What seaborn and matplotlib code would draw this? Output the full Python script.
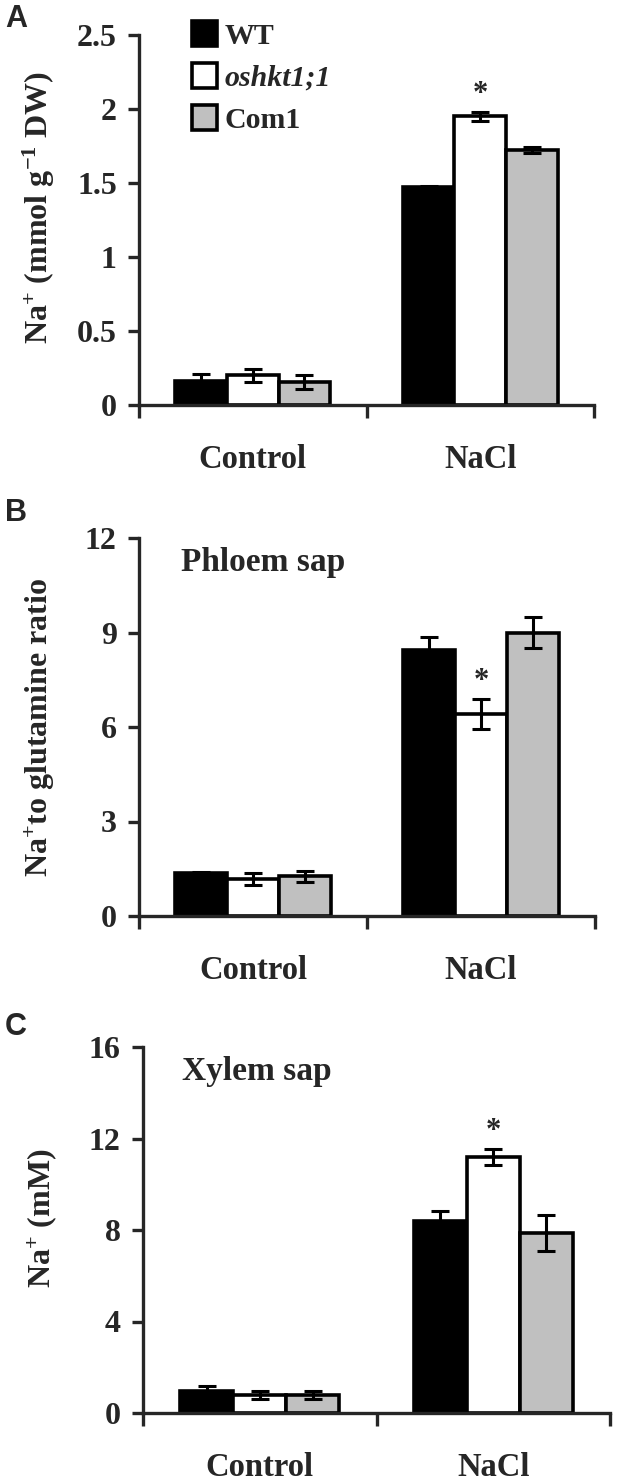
import numpy as np
import pandas as pd
import seaborn as sns
import matplotlib.pyplot as plt

# Values
conditions = ["Control", "NaCl"]
genotypes = ["WT", "oshkt1;1", "Com1"]
colors = ["#000000", "#ffffff", "#c0c0c0"]

leaf_na = [[0.16, 0.20, 0.155], [1.47, 1.95, 1.72]]
leaf_na_err = [[0.05, 0.045, 0.045], [0.01, 0.03, 0.02]]

phloem_ratio = [[1.36, 1.17, 1.26], [8.44, 6.42, 9.0]]
phloem_ratio_err = [[0.05, 0.2, 0.17], [0.42, 0.47, 0.5]]

xylem_na = [[0.97, 0.77, 0.77], [8.41, 11.2, 7.86]]
xylem_na_err = [[0.22, 0.17, 0.17], [0.42, 0.35, 0.78]]

a_ticks = [0, 0.5, 1, 1.5, 2, 2.5]
a_ticklabels = ["0", "0.5", "1", "1.5", "2", "2.5"]
b_ticks = [0, 3, 6, 9, 12]
c_ticks = [0, 4, 8, 12, 16]

W, H = 617, 1480


def build_frame(means, errs):
    rows = []
    for i, cond in enumerate(conditions):
        for j, geno in enumerate(genotypes):
            rows.append({"condition": cond, "genotype": geno,
                         "value": means[i][j], "err": errs[i][j]})
    return pd.DataFrame(rows)


def draw_panel(ax, means, errs, ticks, ticklabels, ylabel, label_y, legend=False):
    frame = build_frame(means, errs)
    sns.barplot(data=frame, x="condition", y="value", hue="genotype",
                hue_order=genotypes, order=conditions, palette=colors,
                edgecolor="black", linewidth=2.6, width=0.68, errorbar=None,
                legend=legend, saturation=1, ax=ax)
    bar_groups = [list(c.patches) for c in ax.containers]
    for j, patches in enumerate(bar_groups):
        for i, bar in enumerate(patches):
            cx = bar.get_x() + bar.get_width() / 2
            ax.errorbar(cx, means[i][j], yerr=errs[i][j], color="black",
                        elinewidth=2.2, capsize=6.5, capthick=2.2, zorder=5)
    # significance star on oshkt1;1 under NaCl
    bar = bar_groups[1][1]
    cx = bar.get_x() + bar.get_width() / 2
    top = means[1][1] + errs[1][1]
    ax.annotate("*", xy=(cx, top), xytext=(0, 7), textcoords="offset points",
                ha="center", va="baseline", fontsize=22, fontweight="bold")

    ax.set_xlim(-0.5, 1.5)
    ax.set_ylim(ticks[0], ticks[-1])
    ax.set_yticks(ticks)
    ax.set_yticklabels(ticklabels)
    ax.set_xticks([-0.5, 0.5, 1.5])
    ax.set_xticklabels([])
    ax.set_xticks([0, 1], minor=True)
    ax.set_xticklabels(conditions, minor=True)
    ax.tick_params(axis="x", which="major", direction="out", length=9, width=2.4)
    ax.tick_params(axis="x", which="minor", length=0, pad=28, labelsize=23.5)
    ax.tick_params(axis="y", direction="out", length=8, width=2.4, labelsize=23, pad=8)
    ax.set_xlabel("")
    ax.set_ylabel(ylabel, fontsize=23, fontweight="bold")
    ax.yaxis.set_label_coords(-0.18, label_y)
    for side in ["top", "right"]:
        ax.spines[side].set_visible(False)
    for side in ["left", "bottom"]:
        ax.spines[side].set_linewidth(2.4)
        ax.spines[side].set_zorder(6)
    for lab in ax.get_xticklabels(which="minor") + ax.get_yticklabels():
        lab.set_fontweight("bold")


def axes_rect(left, right, top, bottom):
    return [left / W, 1 - bottom / H, (right - left) / W, (bottom - top) / H]


sns.set_theme(style="ticks")
plt.rcParams["font.family"] = ["Liberation Serif", "DejaVu Serif"]
plt.rcParams["font.weight"] = "bold"
plt.rcParams["mathtext.fontset"] = "custom"
plt.rcParams["mathtext.rm"] = "Liberation Serif:bold"
plt.rcParams["mathtext.it"] = "Liberation Serif:bold"
plt.rcParams["mathtext.bf"] = "Liberation Serif:bold"

fig = plt.figure(figsize=(W / 100, H / 100), dpi=100)
ax_a = fig.add_axes(axes_rect(139, 594, 35, 405))
ax_b = fig.add_axes(axes_rect(139, 595, 538, 916))
ax_c = fig.add_axes(axes_rect(143, 610, 1047, 1413))

draw_panel(ax_a, leaf_na, leaf_na_err, a_ticks, a_ticklabels,
           r"Na$^{+}$ (mmol g$^{-1}$ DW)", 0.535, legend=True)
draw_panel(ax_b, phloem_ratio, phloem_ratio_err, b_ticks, [str(t) for t in b_ticks],
           r"Na$^{+}$to glutamine ratio", 0.5)
draw_panel(ax_c, xylem_na, xylem_na_err, c_ticks, [str(t) for t in c_ticks],
           r"Na$^{+}$ (mM)", 0.533)

leg = ax_a.legend(loc="upper left", bbox_to_anchor=(0.09, 1.07), frameon=False,
                  fontsize=21.5, handlelength=0.85, handleheight=0.9,
                  handletextpad=0.25, labelspacing=0.45, borderaxespad=0)
for handle in leg.legend_handles:
    handle.set_edgecolor("black")
    handle.set_linewidth(2.6)
leg.get_texts()[1].set_style("italic")

ax_b.text(0.092, 0.934, "Phloem sap", transform=ax_b.transAxes, fontsize=24,
          fontweight="bold", ha="left", va="center")
ax_c.text(0.083, 0.932, "Xylem sap", transform=ax_c.transAxes, fontsize=24,
          fontweight="bold", ha="left", va="center")

for letter, ypix in [("A", 19), ("B", 513), ("C", 1027)]:
    fig.text(5 / W, 1 - ypix / H, letter, fontsize=22, fontweight="bold",
             family=["Liberation Sans", "DejaVu Sans"], ha="left", va="center")

fig.savefig("out.png", dpi=100)
plt.close(fig)
